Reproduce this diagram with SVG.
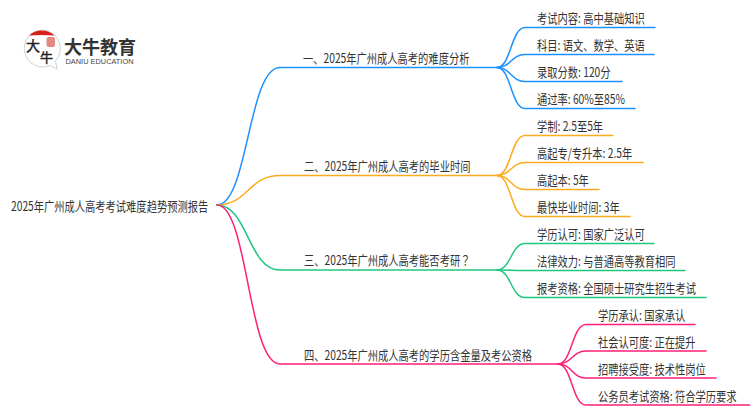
<svg xmlns="http://www.w3.org/2000/svg" width="750" height="410" viewBox="0 0 750 410">
<style>
text{font-family:"Noto Sans CJK SC","Noto Sans",sans-serif;font-size:13px;fill:#333;}
.c{fill:none;stroke-width:1.5;stroke-linecap:round;}
.b{stroke:#1e90ff}.o{stroke:#fbab1c}.g{stroke:#1fc77e}.p{stroke:#ff1f78}
</style>
<rect width="750" height="410" fill="#fff"/>
<g id="connectors">
<path class="c b" d="M217 205C248 205 248 67.500 280 67.500H497"/>
<path class="c o" d="M217 205C248 205 248 175.500 280 175.500H497"/>
<path class="c g" d="M217 205C248 205 248 270 280 270H497"/>
<path class="c p" d="M217 205C248 205 248 364 280 364H558"/>
<g class="c b">
<path d="M497 67.500C511 67.500 511 27.500 525 27.500H655"/>
<path d="M497 67.500C511 67.500 511 54.500 525 54.500H654"/>
<path d="M497 67.500C511 67.500 511 81.500 525 81.500H622"/>
<path d="M497 67.500C511 67.500 511 108.500 525 108.500H635"/>
</g>
<g class="c o">
<path d="M497 175.500C511 175.500 511 135.500 525 135.500H613"/>
<path d="M497 175.500C511 175.500 511 162.500 525 162.500H643"/>
<path d="M497 175.500C511 175.500 511 189.500 525 189.500H599"/>
<path d="M497 175.500C511 175.500 511 216.500 525 216.500H630"/>
</g>
<g class="c g">
<path d="M497 270C511 270 511 243.500 525 243.500H654"/>
<path d="M497 270C511 270 511 270.500 525 270.500H685"/>
<path d="M497 270C511 270 511 297.500 525 297.500H706"/>
</g>
<g class="c p">
<path d="M558 364C572 364 572 324.500 586 324.500H695"/>
<path d="M558 364C572 364 572 351 586 351H706"/>
<path d="M558 364C572 364 572 378 586 378H716"/>
<path d="M558 364C572 364 572 405 586 405H750"/>
</g>
</g>
<g id="logo">
<path d="M42 30A18.500 18.500 0 1 0 50 65.500L57 69L55.500 61A18.500 18.500 0 0 0 42 30Z" fill="#fff" stroke="#bbb" stroke-width="0.7"/>
<path d="M29 35.500A18.500 18.500 0 0 1 54.500 35.500Q42 34.500 29 35.500Z" fill="#d9201f"/>
<rect x="46.500" y="37" width="8.500" height="10" rx="2" fill="#d9605a" opacity="0.75"/>
<text x="26" y="51" style="font-size:14px;fill:#222;stroke:#222;stroke-width:0.4">大</text>
<text x="40" y="62" style="font-size:13px;fill:#222;stroke:#222;stroke-width:0.4">牛</text>
<text x="64" y="54" textLength="72" lengthAdjust="spacingAndGlyphs" style="font-family:'Liberation Sans','Noto Sans CJK SC',sans-serif;font-size:18px;font-weight:700;fill:#333">大牛教育</text>
<text x="65.500" y="63.500" textLength="68" lengthAdjust="spacingAndGlyphs" style="font-size:7px;fill:#444;font-family:'Liberation Sans',sans-serif">DANIU EDUCATION</text>
</g>
<g id="root"><text transform="translate(11 211) scale(.79 1)">2025年广州成人高考考试难度趋势预测报告</text></g>
<g id="b1"><text transform="translate(303 62.500) scale(.79 1)">一、2025年广州成人高考的难度分析</text></g>
<g id="b2"><text transform="translate(304 170.500) scale(.79 1)">二、2025年广州成人高考的毕业时间</text></g>
<g id="b3"><text transform="translate(304 265) scale(.79 1)">三、2025年广州成人高考能否考研<tspan style="font-family:'Noto Sans CJK TC',sans-serif">？</tspan></text></g>
<g id="b4"><text transform="translate(304 359.500) scale(.79 1)">四、2025年广州成人高考的学历含金量及考公资格</text></g>
<g id="l1"><text transform="translate(537 22.500) scale(.79 1)">考试内容: 高中基础知识</text></g>
<g id="l2"><text transform="translate(537 49.500) scale(.79 1)">科目: 语文、数学、英语</text></g>
<g id="l3"><text transform="translate(537 76.500) scale(.79 1)">录取分数: 120分</text></g>
<g id="l4"><text transform="translate(537 103.500) scale(.79 1)">通过率: 60%至85%</text></g>
<g id="l5"><text transform="translate(537 130.500) scale(.79 1)">学制: 2.5至5年</text></g>
<g id="l6"><text transform="translate(537 157.500) scale(.79 1)">高起专/专升本: 2.5年</text></g>
<g id="l7"><text transform="translate(537 184.500) scale(.79 1)">高起本: 5年</text></g>
<g id="l8"><text transform="translate(537 211.500) scale(.79 1)">最快毕业时间: 3年</text></g>
<g id="l9"><text transform="translate(537 238.500) scale(.79 1)">学历认可: 国家广泛认可</text></g>
<g id="l10"><text transform="translate(537 265.500) scale(.79 1)">法律效力: 与普通高等教育相同</text></g>
<g id="l11"><text transform="translate(537 292.500) scale(.79 1)">报考资格: 全国硕士研究生招生考试</text></g>
<g id="l12"><text transform="translate(598 319.500) scale(.79 1)">学历承认: 国家承认</text></g>
<g id="l13"><text transform="translate(598 346.500) scale(.79 1)">社会认可度: 正在提升</text></g>
<g id="l14"><text transform="translate(598 373.500) scale(.79 1)">招聘接受度: 技术性岗位</text></g>
<g id="l15"><text transform="translate(598 400.500) scale(.79 1)">公务员考试资格: 符合学历要求</text></g>
</svg>
